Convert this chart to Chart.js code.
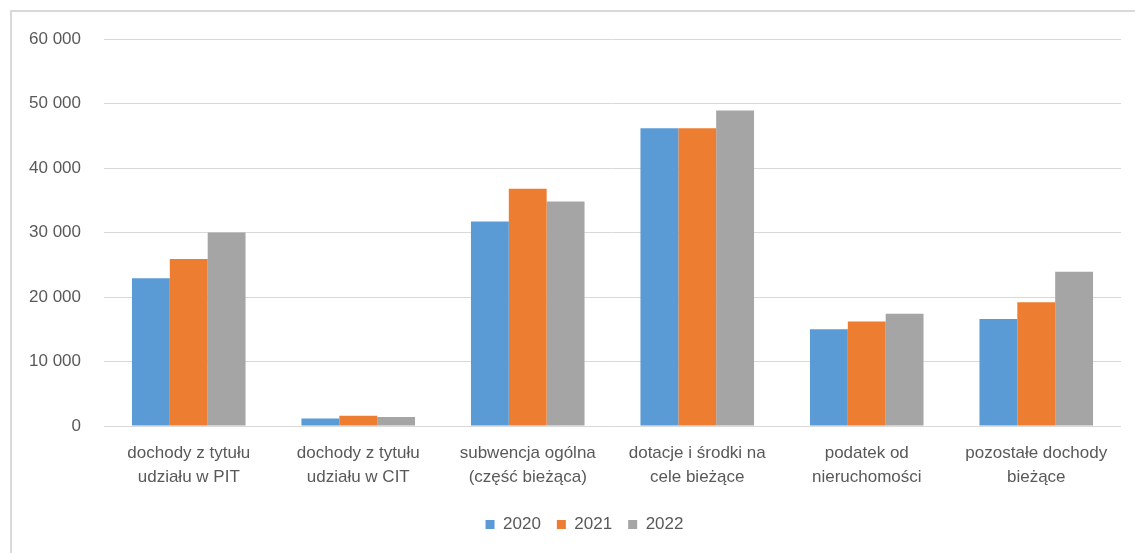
<!DOCTYPE html>
<html>
<head>
<meta charset="utf-8">
<script src="https://cdn.jsdelivr.net/npm/chart.js@4.4.1/dist/chart.umd.min.js"></script>
<style>
  html, body { margin: 0; padding: 0; background: #ffffff; }
  body { width: 1135px; height: 553px; overflow: hidden; position: relative; }
  #frame { position: absolute; left: 10px; top: 10px; width: 1123px; height: 541px;
           border-left: 2px solid #d9d9d9; border-top: 2px solid #d9d9d9; }
  #wrap { position: absolute; left: 0; top: 0; width: 1123px; height: 541px; }
</style>
</head>
<body>
<div id="frame"><div id="wrap"><canvas id="c"></canvas></div></div>
<script>
const categories = [
  ["dochody z tytułu", "udziału w PIT"],
  ["dochody z tytułu", "udziału w CIT"],
  ["subwencja ogólna", "(część bieżąca)"],
  ["dotacje i środki na", "cele bieżące"],
  ["podatek od", "nieruchomości"],
  ["pozostałe dochody", "bieżące"]
];
const seriesNames = ["2020", "2021", "2022"];
const values2020 = [22900, 1150, 31700, 46150, 15000, 16600];
const values2021 = [25900, 1600, 36800, 46150, 16200, 19200];
const values2022 = [30000, 1400, 34800, 48900, 17400, 23900];
const yTicks = [0, 10000, 20000, 30000, 40000, 50000, 60000];

const colors = ["#5B9BD5", "#ED7D31", "#A5A5A5"];
const txt = "#595959";
const FONT = "'Liberation Sans', Arial, sans-serif";

function fmt(v) {
  return String(v).replace(/\B(?=(\d{3})+(?!\d))/g, " ");
}

const ds = [values2020, values2021, values2022].map((vals, i) => ({
  label: seriesNames[i],
  data: vals,
  backgroundColor: colors[i],
  borderWidth: 0,
  categoryPercentage: 0.67,
  barPercentage: 1.0
}));

const legendShift = {
  id: 'legendShift',
  afterLayout(chart) {
    if (chart.legend) { chart.legend.left += 18; chart.legend.right += 18; }
  }
};

new Chart(document.getElementById('c'), {
  type: 'bar',
  data: { labels: categories, datasets: ds },
  plugins: [legendShift],
  options: {
    responsive: true,
    maintainAspectRatio: false,
    animation: false,
    layout: { padding: { top: 27, right: 14, bottom: 10, left: 0 } },
    plugins: {
      tooltip: { enabled: false },
      legend: {
        position: 'bottom',
        labels: {
          boxWidth: 9, boxHeight: 9, padding: 16,
          color: txt,
          font: { family: FONT, size: 17 }
        }
      }
    },
    scales: {
      x: {
        grid: { display: false, drawTicks: false },
        border: { display: false },
        ticks: {
          color: txt, padding: 15, maxRotation: 0, autoSkip: false,
          font: { family: FONT, size: 17, lineHeight: 1.41 }
        },
        afterFit: (s) => { s.height = 74; }
      },
      y: {
        min: 0, max: 60000,
        afterBuildTicks: (s) => { s.ticks = yTicks.map(v => ({ value: v })); },
        grid: { color: '#d9d9d9', lineWidth: 1, drawTicks: false },
        border: { display: false },
        ticks: {
          color: txt, padding: 23,
          font: { family: FONT, size: 17 },
          callback: (v) => fmt(v)
        },
        afterFit: (s) => { s.width = 92; s.paddingTop = 10; s.paddingBottom = 10; }
      }
    }
  }
});
</script>
</body>
</html>
